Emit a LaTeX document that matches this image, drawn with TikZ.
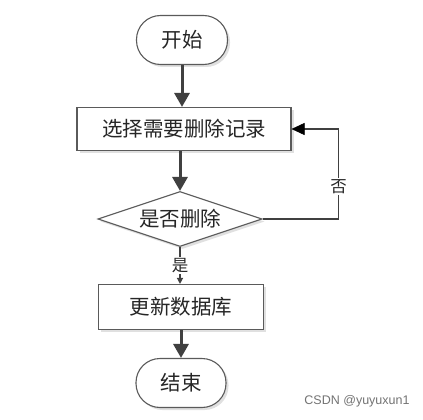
\documentclass[tikz,border=0pt]{standalone}
\usepackage{fontspec}
\newfontfamily\cjk{Noto Sans CJK SC}
\newfontfamily\wmfont{Liberation Sans}
\usetikzlibrary{arrows.meta,shapes.geometric,shadows}
\definecolor{linecol}{HTML}{404040}
\definecolor{boxcol}{HTML}{5A5A5A}
\tikzset{
  boxbase/.style={draw=boxcol, line width=1.1pt, fill=white, inner sep=0pt,
    font=\cjk\fontsize{20.5}{20.5}\selectfont, text=black!85,
    drop shadow={shadow xshift=2.5pt, shadow yshift=-2.5pt, fill=black!12, opacity=1}},
  termbox/.style={boxbase, rectangle, rounded corners=24pt, minimum width=91pt, minimum height=49pt},
  procbox/.style={boxbase, rectangle, minimum height=43pt},
  decbox/.style={boxbase, diamond, aspect=3, minimum width=164pt, minimum height=55pt},
  mainarrow/.style={draw=linecol, line width=3pt, -{Triangle[length=14pt,width=15pt]}},
  thinarrow/.style={draw=linecol, line width=1.3pt, -{Triangle[length=13pt,width=12pt,color=black,fill=black,line width=0.5pt]}},
  smallarrow/.style={draw=linecol, line width=1.3pt, -{Triangle[length=6pt,width=6pt]}},
  lbl/.style={fill=white, inner sep=1pt, font=\cjk\fontsize{16.5}{16.5}\selectfont, text=black!85}
}
\begin{document}
\begin{tikzpicture}[x=1pt,y=-1pt]
\useasboundingbox[fill=white] (0,0) rectangle (423,420);
\node[termbox] (start) at (182,40) {开始};
\node[procbox, minimum width=214pt] (sel) at (184,129) {选择需要删除记录};
\node[decbox] (dec) at (180,219) {是否删除};
\node[procbox, minimum width=165pt, minimum height=45pt] (upd) at (181,307) {更新数据库};
\node[termbox, minimum width=90pt] (end) at (181,383) {结束};
\node[font=\wmfont\fontsize{12.5}{12.5}\selectfont, text=black!55, inner sep=0pt] (wm) at (357,401) {CSDN @yuyuxun1};

\draw[mainarrow] (start.south) -- (start.south |- sel.north);
\draw[mainarrow] (dec.north |- sel.south) -- (dec.north);
\draw[smallarrow] (dec.south) -- node[lbl, midway] {是} (dec.south |- upd.north);
\draw[mainarrow] (end.north |- upd.south) -- (end.north);
\draw[thinarrow] (dec.east) -- ++(76,0) coordinate (loopc) |- node[lbl, pos=0.18] {否} (sel.east);
\end{tikzpicture}
\end{document}
